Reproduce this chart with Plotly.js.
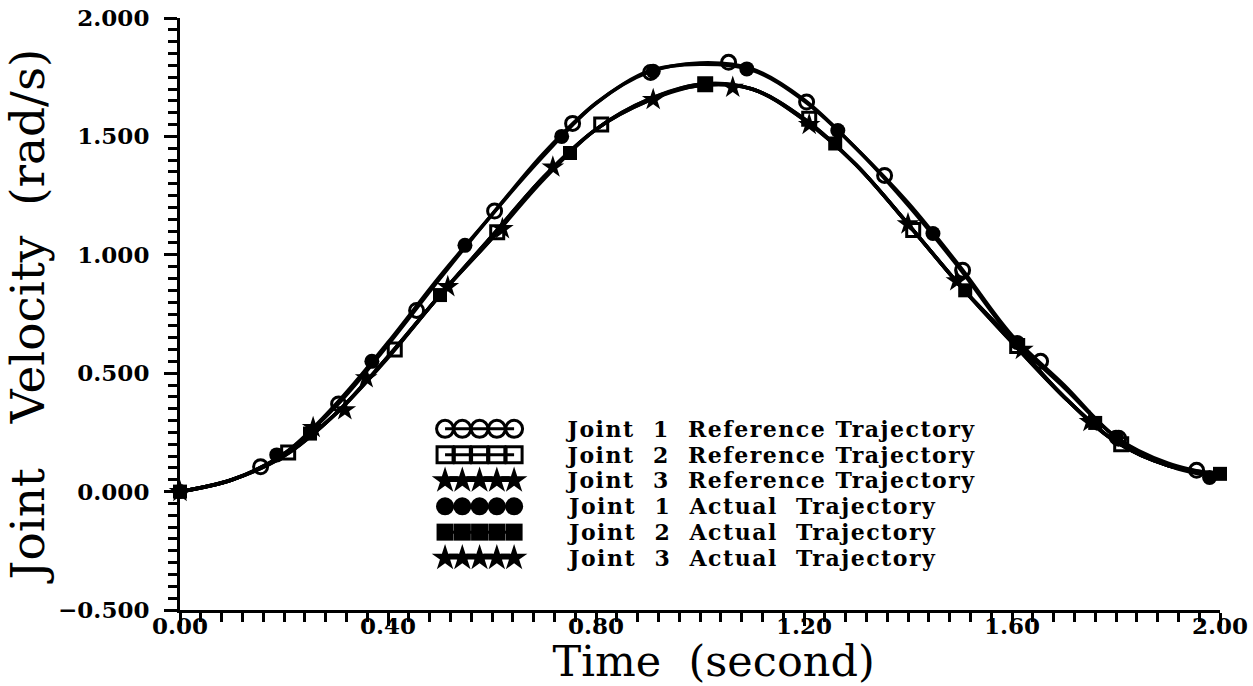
<!DOCTYPE html>
<html>
<head>
<meta charset="utf-8">
<script src="https://cdn.plot.ly/plotly-3.0.1.min.js"></script>
<style>
html, body { margin:0; padding:0; background:#fff; }
#chart { width:1253px; height:686px; }
#chart .annotation-text { letter-spacing: 1.5px; }
</style>
</head>
<body>
<div id="chart"></div>
<script>
// ---- Data ----
// Curves, sampled every 0.1 s
const tGrid = [0, 0.1, 0.2, 0.3, 0.4, 0.5, 0.6, 0.7, 0.8, 0.9, 1.0, 1.1, 1.2, 1.3, 1.4, 1.5, 1.6, 1.7, 1.8, 1.9, 2.0];
const vJ1RefLine = [0, 0.05, 0.16, 0.36, 0.62, 0.90, 1.17, 1.42, 1.64, 1.77, 1.81, 1.785, 1.655, 1.45, 1.22, 0.95, 0.66, 0.45, 0.23, 0.12, 0.07];
const vJ2RefLine = [0, 0.05, 0.155, 0.33, 0.57, 0.83, 1.07, 1.33, 1.53, 1.655, 1.72, 1.70, 1.575, 1.38, 1.13, 0.87, 0.64, 0.40, 0.21, 0.11, 0.07];
const vJ3RefLine = [0, 0.05, 0.15, 0.33, 0.57, 0.83, 1.08, 1.33, 1.53, 1.655, 1.715, 1.70, 1.575, 1.38, 1.13, 0.87, 0.64, 0.40, 0.21, 0.11, 0.07];
const vJ1ActLine = [0, 0.05, 0.16, 0.37, 0.63, 0.91, 1.17, 1.43, 1.64, 1.775, 1.805, 1.78, 1.65, 1.45, 1.21, 0.94, 0.65, 0.44, 0.23, 0.11, 0.06];
const vJ2ActLine = [0, 0.05, 0.155, 0.33, 0.565, 0.83, 1.07, 1.32, 1.53, 1.65, 1.72, 1.70, 1.57, 1.38, 1.13, 0.87, 0.63, 0.40, 0.21, 0.11, 0.075];
const vJ3ActLine = [0, 0.05, 0.15, 0.33, 0.57, 0.83, 1.08, 1.33, 1.53, 1.65, 1.715, 1.70, 1.57, 1.38, 1.13, 0.87, 0.63, 0.40, 0.21, 0.11, 0.07];

// Marker samples
const tJ1RefMk = [0.155, 0.305, 0.455, 0.605, 0.755, 0.905, 1.055, 1.205, 1.355, 1.505, 1.655, 1.805, 1.955];
const vJ1RefMk = [0.105, 0.37, 0.765, 1.185, 1.555, 1.77, 1.813, 1.645, 1.335, 0.935, 0.55, 0.225, 0.09];
const tJ2RefMk = [0.208, 0.413, 0.61, 0.81, 1.01, 1.21, 1.41, 1.61, 1.81];
const vJ2RefMk = [0.165, 0.60, 1.095, 1.55, 1.72, 1.575, 1.105, 0.615, 0.20];
const tJ3RefMk = [0.317, 0.62, 0.91, 1.21, 1.494, 1.75];
const vJ3RefMk = [0.345, 1.11, 1.655, 1.55, 0.89, 0.295];
const tJ1ActMk = [0, 0.186, 0.369, 0.548, 0.734, 0.91, 1.09, 1.265, 1.448, 1.61, 1.80, 1.98];
const vJ1ActMk = [0, 0.155, 0.55, 1.04, 1.50, 1.775, 1.785, 1.525, 1.09, 0.63, 0.23, 0.06];
const tJ2ActMk = [0, 0.25, 0.5, 0.75, 1.01, 1.26, 1.51, 1.76, 2.0];
const vJ2ActMk = [0, 0.245, 0.83, 1.43, 1.72, 1.47, 0.85, 0.29, 0.075];
const tJ3ActMk = [0, 0.256, 0.358, 0.515, 0.717, 1.063, 1.40, 1.62];
const vJ3ActMk = [0, 0.27, 0.48, 0.865, 1.37, 1.707, 1.13, 0.60];

// Tick labels
const xTickVals = [0, 0.4, 0.8, 1.2, 1.6, 2.0];
const xTickText = ["0.00", "0.40", "0.80", "1.20", "1.60", "2.00"];
const yTickVals = [-0.5, 0, 0.5, 1.0, 1.5, 2.0];
const yTickText = ["\u22120.500", "0.000", "0.500", "1.000", "1.500", "2.000"];

// Legend entries
const legendLabels = [
  "Joint\u00a0\u00a01\u00a0\u00a0Reference\u00a0Trajectory",
  "Joint\u00a0\u00a02\u00a0\u00a0Reference\u00a0Trajectory",
  "Joint\u00a0\u00a03\u00a0\u00a0Reference\u00a0Trajectory",
  "Joint\u00a0\u00a01\u00a0\u00a0Actual\u00a0\u00a0Trajectory",
  "Joint\u00a0\u00a02\u00a0\u00a0Actual\u00a0\u00a0Trajectory",
  "Joint\u00a0\u00a03\u00a0\u00a0Actual\u00a0\u00a0Trajectory"
];
const legendSymbols = ["circle-open", "square-open", "star", "circle", "square", "star"];
const legendSlots = [0, 1, 2, 3, 4];
const legendRows = [1, 2, 3, 4, 5, 6];

// ---- Build traces ----
const lines = [vJ1RefLine, vJ2RefLine, vJ3RefLine, vJ1ActLine, vJ2ActLine, vJ3ActLine];
const marks = [[tJ1RefMk, vJ1RefMk], [tJ2RefMk, vJ2RefMk], [tJ3RefMk, vJ3RefMk],
               [tJ1ActMk, vJ1ActMk], [tJ2ActMk, vJ2ActMk], [tJ3ActMk, vJ3ActMk]];
const markerSize = {"circle-open":14, "square-open":13, "star":17, "circle":15, "square":14};

function markerStyle(sym, extra) {
  return {symbol: sym, size: markerSize[sym] + extra, color: "#000",
          line: {color: "#000", width: sym.endsWith("open") ? 3 : 0}};
}

const traces = [];
lines.forEach((v, i) => {
  traces.push({
    x: tGrid, y: v, type: "scatter", mode: "lines", showlegend: false,
    name: legendLabels[i], hoverinfo: "skip", cliponaxis: false,
    line: {color: "#000", width: 3.5, shape: "spline", smoothing: 1}
  });
});
marks.forEach((m, i) => {
  traces.push({
    x: m[0], y: m[1], type: "scatter", mode: "markers", showlegend: false,
    name: legendLabels[i], cliponaxis: false,
    marker: markerStyle(legendSymbols[i], 0)
  });
});
// legend samples in an auxiliary (hidden) axis pair
legendRows.forEach((r, i) => {
  traces.push({
    x: legendSlots, y: legendSlots.map(() => r), xaxis: "x2", yaxis: "y2",
    type: "scatter", mode: "lines+markers", showlegend: false, hoverinfo: "skip",
    cliponaxis: false,
    line: {color: "#000", width: 3},
    marker: markerStyle(legendSymbols[i], 3)
  });
});

const tickFont = {family: "DejaVu Serif", size: 23, color: "#000", weight: "bold"};
const annotations = legendRows.map((r, i) => ({
  xref: "paper", yref: "y2", x: 0.3913, y: r, xanchor: "left", yanchor: "middle",
  text: legendLabels[i], showarrow: false, borderpad: 0,
  font: {family: "DejaVu Serif", size: 22, color: "#000", weight: "bold"}
}));

const layout = {
  width: 1253, height: 686,
  paper_bgcolor: "#fff", plot_bgcolor: "rgba(0,0,0,0)",
  margin: {l: 180, r: 33, t: 18, b: 76},
  showlegend: false,
  xaxis: {
    range: [0, 2.0], tickvals: xTickVals, ticktext: xTickText,
    ticks: "outside", ticklen: 13, tickwidth: 3, tickcolor: "#000",
    showline: true, linewidth: 3, linecolor: "#000",
    showgrid: false, zeroline: false, tickfont: tickFont, ticklabelstandoff: -20,
    minor: {dtick: 0.04, ticks: "outside", ticklen: 9, tickwidth: 3, tickcolor: "#000", showgrid: false},
    title: {text: "\u200b\u00a0\u00a0Time\u00a0\u00a0(second)", font: {family: "DejaVu Serif", size: 43, color: "#000"}, standoff: 12}
  },
  yaxis: {
    range: [-0.5, 2.0], tickvals: yTickVals, ticktext: yTickText,
    ticks: "outside", ticklen: 13, tickwidth: 3, tickcolor: "#000",
    showline: true, linewidth: 3, linecolor: "#000",
    showgrid: false, zeroline: false, tickfont: tickFont, ticklabelstandoff: 10,
    minor: {dtick: 0.05, ticks: "outside", ticklen: 9, tickwidth: 3, tickcolor: "#000", showgrid: false},
    title: {text: "Joint\u00a0\u00a0\u00a0Velocity\u00a0\u00a0(rad/s)", font: {family: "DejaVu Serif", size: 47, color: "#000"}, standoff: 1}
  },
  xaxis2: {domain: [0.2449, 0.3312], range: [-0.6, 4.6], anchor: "y2", visible: false, fixedrange: true},
  yaxis2: {domain: [0.0661, 0.3278], range: [6.5, 0.5], anchor: "x2", visible: false, fixedrange: true},
  annotations: annotations
};

Plotly.newPlot("chart", traces, layout, {displayModeBar: false, staticPlot: true});
</script>
</body>
</html>
